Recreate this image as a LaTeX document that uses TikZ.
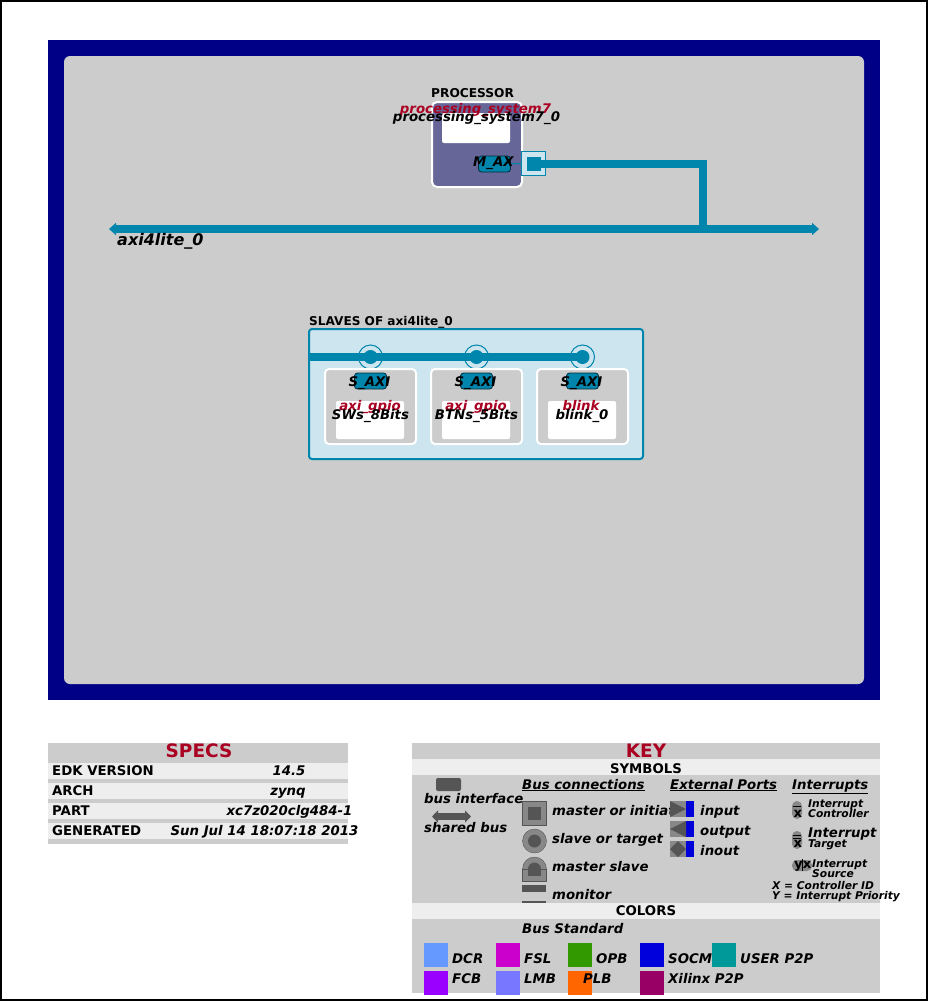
\documentclass[tikz,border=0pt]{standalone}
\usepackage{fontspec}
\setmainfont{DejaVu Sans}
\usetikzlibrary{arrows.meta}
\definecolor{busblue}{HTML}{0085AD}
\definecolor{paleblue}{HTML}{CCE5EE}
\definecolor{panelgray}{HTML}{CCCCCC}
\definecolor{stripgray}{HTML}{EEEEEE}
\definecolor{iconlight}{HTML}{888888}
\definecolor{icondark}{HTML}{555555}
\definecolor{titlered}{HTML}{AA0022}
\definecolor{procblue}{HTML}{666699}
\newcommand{\fs}[1]{\fontsize{#1}{#1}\selectfont}
\tikzset{
	lbl/.style={inner sep=0pt, anchor=base west, font=\bfseries\itshape\fs{13.3}},
	midlbl/.style={inner sep=0pt, anchor=base, font=\bfseries\itshape\fs{13.3}},
	upr/.style={inner sep=0pt, anchor=base west, font=\bfseries\fs{13.3}},
	smalllbl/.style={lbl, font=\bfseries\itshape\fs{10.7}},
	heading/.style={inner sep=0pt, anchor=base, font=\bfseries\fs{18.5}, text=titlered},
	strip/.style={inner sep=0pt, anchor=base, font=\bfseries\fs{13.3}},
	bus/.style={busblue, line width=8pt},
	buspin/.style={draw=black!70!busblue, fill=busblue, line width=0.8pt, rounded corners=3pt, minimum width=32pt, minimum height=16pt, inner sep=0pt, outer sep=0pt},
	card/.style={draw=white, fill=panelgray, line width=2pt, rounded corners=4pt},
	ring/.style={draw=busblue, circle, fill=paleblue, line width=1pt, minimum size=24pt, inner sep=0pt, outer sep=0pt},
	swatch/.style={inner sep=0pt, outer sep=0pt, minimum size=24pt, anchor=north west}
}
\begin{document}
\begin{tikzpicture}[x=1pt, y=-1pt]
	\useasboundingbox (0,0) rectangle (928,1001);
	\draw[black, line width=2pt, fill=white] (1,1) rectangle (927,1000);

	% system
	\fill[blue!53!black] (48,40) rectangle (880,700);
	\fill[panelgray, rounded corners=6pt] (64,56) rectangle (864,684);

	% processor
	\filldraw[draw=white, fill=procblue, line width=2pt, rounded corners=5pt] (432,102) rectangle (522,187);
	\fill[white, rounded corners=2pt] (442,113) rectangle (510,143);
	\node[buspin] (mpin) at (494.5,164) {};
	\node[draw=busblue, fill=paleblue, line width=1pt, minimum size=24pt, inner sep=0pt, outer sep=0pt] (mport) at (533.5,163.5) {};
	\draw[busblue, line width=1pt] (mpin) -- (mport);
	\node[fill=busblue, minimum size=14pt, inner sep=0pt] (mdot) at (534,163.5) {};

	% bus
	\coordinate (busleft) at (109,229);
	\coordinate (busright) at (819,229);
	\coordinate (busjoin) at (703,229);
	\coordinate (buselbow) at (703,163.5);
	\draw[bus, {Triangle[width=12pt,length=7pt]}-{Triangle[width=12pt,length=7pt]}] (busleft) -- (busright);
	\draw[bus] (mdot.center) -- (buselbow) -- (busjoin);

	\node[upr, font=\bfseries\fs{12.2}] (proctitle) at (431,97) {PROCESSOR};
	\node[midlbl, text=titlered] (proctype) at (475.5,113) {processing\_system7};
	\node[midlbl] (procname) at (476.5,121) {processing\_system7\_0};
	\node[lbl] (maxi) at (473,166) {M\_AX};
	\node[lbl, font=\bfseries\itshape\fs{16}] (busname) at (117,245) {axi4lite\_0};

	% slaves
	\node[upr, font=\bfseries\fs{12.1}] (slavetitle) at (309,325) {SLAVES OF axi4lite\_0};
	\filldraw[draw=busblue, fill=paleblue, line width=2pt, rounded corners=3pt] (309,329) rectangle (643,459);
	\node[ring] (ringa) at (370.5,357) {};
	\node[ring] (ringb) at (476.5,357) {};
	\node[ring] (ringc) at (582.5,357) {};
	\coordinate (slavebus) at (309,357);
	\draw[bus] (slavebus) -- (ringc.center);
	\fill[busblue] (ringa.center) circle (7);
	\fill[busblue] (ringb.center) circle (7);
	\fill[busblue] (ringc.center) circle (7);

	\filldraw[card] (325,369) rectangle (416,444);
	\filldraw[card] (431,369) rectangle (522,444);
	\filldraw[card] (537,369) rectangle (628,444);
	\fill[white, rounded corners=2pt] (336,401) rectangle (404,439);
	\fill[white, rounded corners=2pt] (442,401) rectangle (510,439);
	\fill[white, rounded corners=2pt] (548,401) rectangle (616,439);
	\node[buspin] (pina) at (370.5,381) {};
	\node[buspin] (pinb) at (476.5,381) {};
	\node[buspin] (pinc) at (582.5,381) {};

	\node[midlbl] (saxia) at (369.5,386) {S\_AXI};
	\node[midlbl] (saxib) at (475.5,386) {S\_AXI};
	\node[midlbl] (saxic) at (581.5,386) {S\_AXI};
	\node[midlbl, text=titlered] (typea) at (370,410) {axi\_gpio};
	\node[midlbl, text=titlered] (typeb) at (476,410) {axi\_gpio};
	\node[midlbl, text=titlered] (typec) at (581,410) {blink};
	\node[midlbl] (namea) at (370.5,419) {SWs\_8Bits};
	\node[midlbl] (nameb) at (476.5,419) {BTNs\_5Bits};
	\node[midlbl] (namec) at (582,419) {blink\_0};

	% specs
	\fill[panelgray] (48,743) rectangle (348,844);
	\fill[stripgray] (48,763) rectangle (348,779);
	\fill[stripgray] (48,783) rectangle (348,799);
	\fill[stripgray] (48,803) rectangle (348,819);
	\fill[stripgray] (48,823) rectangle (348,839);
	\node[heading] (specs) at (199,757) {SPECS};
	\node[upr] (edkkey) at (52,775) {EDK VERSION};
	\node[upr] (archkey) at (52,795) {ARCH};
	\node[upr] (partkey) at (52,815) {PART};
	\node[upr] (genkey) at (52,835) {GENERATED};
	\node[midlbl] (edkval) at (289,775) {14.5};
	\node[midlbl] (archval) at (288,795) {zynq};
	\node[midlbl] (partval) at (289.5,815) {xc7z020clg484-1};
	\node[midlbl] (genval) at (264.5,835) {Sun Jul 14 18:07:18 2013};

	% key
	\fill[panelgray] (412,743) rectangle (880,993);
	\fill[stripgray] (412,759) rectangle (880,775);
	\fill[stripgray] (412,903) rectangle (880,919);
	\node[heading] (keytitle) at (646,757) {KEY};
	\node[strip] (symbols) at (646,773) {SYMBOLS};
	\node[strip] (colors) at (646,915) {COLORS};

	% symbols, first column
	\fill[icondark, rounded corners=2pt] (436,778) rectangle (461,791);
	\node[lbl] (businterface) at (424,803) {bus interface};
	\coordinate (sharedl) at (432,816.5);
	\coordinate (sharedr) at (471,816.5);
	\draw[icondark, line width=7pt, {Triangle[width=12pt,length=6pt]}-{Triangle[width=12pt,length=6pt]}] (sharedl) -- (sharedr);
	\node[lbl] (sharedbus) at (424,832) {shared bus};

	% bus connections
	\node[lbl] (busconn) at (522,789) {\underline{Bus connections}};
	\filldraw[draw=icondark, fill=iconlight] (522.5,801.5) rectangle (546.5,825.5);
	\fill[icondark] (528,807) rectangle (541,820);
	\node[lbl] (masterlbl) at (552,815) {master or initiator};
	\filldraw[draw=icondark, fill=iconlight] (534.5,841) circle (12);
	\fill[icondark] (534.5,841) circle (6.5);
	\node[lbl] (slavelbl) at (552,843) {slave or target};
	\filldraw[draw=icondark, fill=iconlight] (534.5,869) circle (12);
	\filldraw[draw=icondark, fill=iconlight] (522.5,869) rectangle (546.5,881.5);
	\fill[icondark] (534.5,869) circle (6.5);
	\fill[icondark] (528,869) rectangle (541,876);
	\node[lbl] (mslavelbl) at (552,871) {master slave};
	\fill[icondark] (522,885) rectangle (546,892);
	\fill[icondark] (522,901) rectangle (546,903);
	\node[lbl] (monitorlbl) at (552,899) {monitor};

	% external ports
	\node[lbl] (extports) at (670,789) {\underline{External Ports}};
	\fill[iconlight] (670,801) rectangle (686,817);
	\fill[iconlight] (670,821) rectangle (686,837);
	\fill[iconlight] (670,841) rectangle (686,857);
	\fill[blue!85!black] (686,801) rectangle (694,817);
	\fill[blue!85!black] (686,821) rectangle (694,837);
	\fill[blue!85!black] (686,841) rectangle (694,857);
	\fill[icondark] (670,801) -- (686,809) -- (670,817) -- cycle;
	\fill[icondark] (686,821) -- (670,829) -- (686,837) -- cycle;
	\fill[icondark] (670,849) -- (678,841) -- (686,849) -- (678,857) -- cycle;
	\node[lbl] (inputlbl) at (700,815) {input};
	\node[lbl] (outputlbl) at (700,835) {output};
	\node[lbl] (inoutlbl) at (700,855) {inout};

	% interrupts
	\node[lbl] (intrtitle) at (792,789) {\underline{Interrupts}};
	\fill[iconlight, rounded corners=5pt] (792,801) rectangle (802,819);
	\fill[black] (793,805.5) rectangle (801,807);
	\node[upr] (ctrlx) at (793.5,817) {x};
	\node[smalllbl] (ctrla) at (808,807) {Interrupt};
	\node[smalllbl] (ctrlb) at (808,817) {Controller};
	\fill[iconlight, rounded corners=5pt] (792,831) rectangle (802,849);
	\fill[black] (793,834.5) rectangle (801,835.5);
	\fill[black] (793,838) rectangle (801,839);
	\node[upr] (targx) at (793.5,847) {x};
	\node[lbl] (targa) at (808,837) {Interrupt};
	\node[smalllbl] (targb) at (808,847) {Target};
	\fill[iconlight, rounded corners=5pt] (792,860) rectangle (812,871);
	\fill[black] (802,859) rectangle (803,871);
	\node[upr] (srcyx) at (794,868.5) {yx};
	\node[smalllbl] (srca) at (812,867) {Interrupt};
	\node[smalllbl] (srcb) at (812,877) {Source};
	\node[smalllbl] (xnote) at (772,889) {X = Controller ID};
	\node[smalllbl] (ynote) at (772,899) {Y = Interrupt Priority};

	% colors
	\node[lbl] (busstd) at (522,933) {Bus Standard};
	\node[swatch, fill={rgb,255:red,102;green,153;blue,255}] (dcr) at (424,943) {};
	\node[swatch, fill={rgb,255:red,204;green,0;blue,204}] (fsl) at (496,943) {};
	\node[swatch, fill={rgb,255:red,51;green,153;blue,0}] (opb) at (568,943) {};
	\node[swatch, fill={rgb,255:red,0;green,0;blue,221}] (socm) at (640,943) {};
	\node[swatch, fill={rgb,255:red,0;green,153;blue,153}] (userp) at (712,943) {};
	\node[swatch, fill={rgb,255:red,153;green,0;blue,255}] (fcb) at (424,971) {};
	\node[swatch, fill={rgb,255:red,119;green,119;blue,255}] (lmb) at (496,971) {};
	\node[swatch, fill={rgb,255:red,255;green,102;blue,0}] (plb) at (568,971) {};
	\node[swatch, fill={rgb,255:red,153;green,0;blue,102}] (xilp) at (640,971) {};
	\node[lbl] (dcrlbl) at (452,963) {DCR};
	\node[lbl] (fsllbl) at (524,963) {FSL};
	\node[lbl] (opblbl) at (596,963) {OPB};
	\node[lbl] (socmlbl) at (668,963) {SOCM};
	\node[lbl] (userlbl) at (740,963) {USER P2P};
	\node[lbl] (fcblbl) at (452,983) {FCB};
	\node[lbl] (lmblbl) at (524,983) {LMB};
	\node[lbl] (plblbl) at (583,983) {PLB};
	\node[lbl] (xillbl) at (668,983) {Xilinx P2P};
\end{tikzpicture}
\end{document}
